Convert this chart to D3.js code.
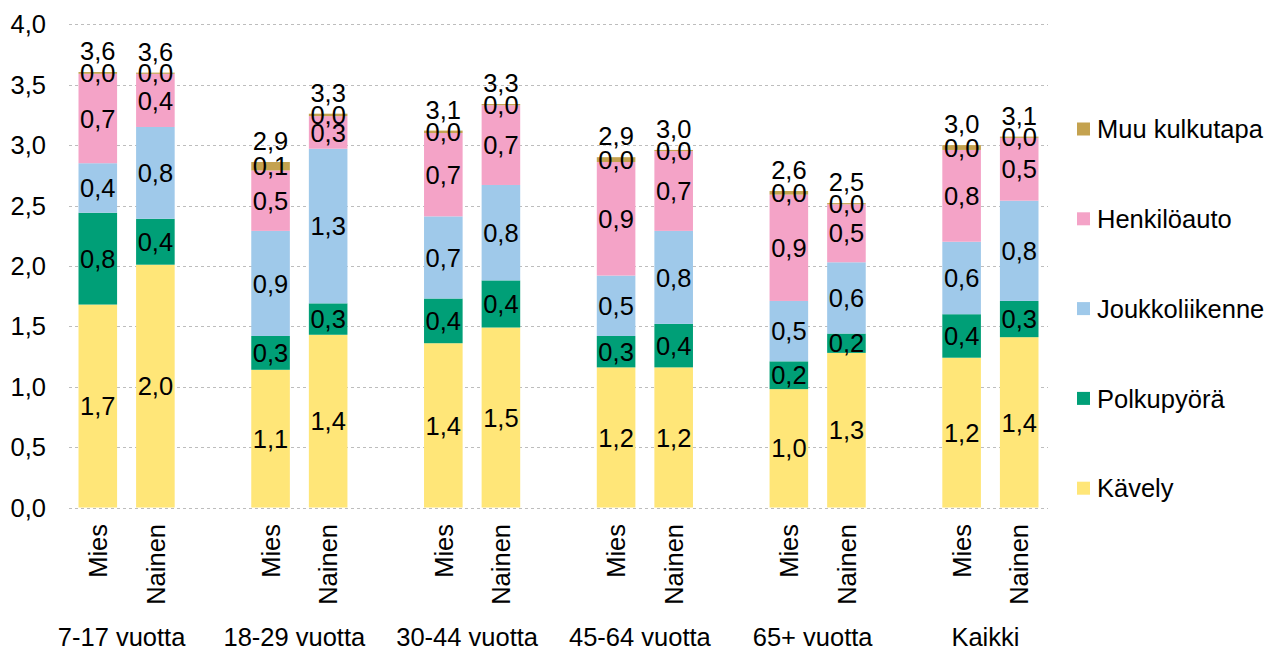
<!DOCTYPE html>
<html>
<head>
<meta charset="utf-8">
<script src="https://cdn.jsdelivr.net/npm/d3@7"></script>
<style>
  body { margin: 0; background: #fff; }
  text { font-family: "Liberation Sans", Arial, sans-serif; fill: #000; }
</style>
</head>
<body>
<div id="main"></div>
<script>
var groups = ["7-17 vuotta", "18-29 vuotta", "30-44 vuotta", "45-64 vuotta", "65+ vuotta", "Kaikki"];
var sexes = ["Mies", "Nainen"];
var modes = ["Kävely", "Polkupyörä", "Joukkoliikenne", "Henkilöauto", "Muu kulkutapa"];

// one value per bar: group by group, Mies then Nainen
var kavely     = [1.68, 2.01, 1.14, 1.43, 1.36, 1.49, 1.16, 1.16, 0.98, 1.28, 1.24, 1.41];
var polkupyora = [0.76, 0.38, 0.28, 0.26, 0.37, 0.39, 0.26, 0.36, 0.23, 0.16, 0.36, 0.30];
var joukko     = [0.41, 0.76, 0.87, 1.28, 0.68, 0.79, 0.50, 0.77, 0.50, 0.59, 0.60, 0.83];
var henkilo    = [0.74, 0.44, 0.50, 0.27, 0.69, 0.66, 0.94, 0.66, 0.88, 0.48, 0.76, 0.52];
var muu        = [0.015, 0.01, 0.07, 0.02, 0.02, 0.01, 0.04, 0.01, 0.03, 0.01, 0.04, 0.01];

var yTicks = [0, 0.5, 1, 1.5, 2, 2.5, 3, 3.5, 4];

var ctx = {
    w: 1271,
    h: 651,
    left: 69,
    right: 1048,
    top: 24.3,
    bottom: 507.5,
    font: 25.5,
};

var colors = {
    "Kävely": "#ffe678",
    "Polkupyörä": "#009f77",
    "Joukkoliikenne": "#9fc9ea",
    "Henkilöauto": "#f4a3c7",
    "Muu kulkutapa": "#c4a24f"
};

var fi = d3.formatLocale({decimal: ",", thousands: " ", grouping: [3], currency: ["", " €"]});
var fmt = fi.format(".1f");

var series = [kavely, polkupyora, joukko, henkilo, muu];
var table = [];
groups.forEach(function(g, i) {
    sexes.forEach(function(s, j) {
        var row = {group: g, sex: s, slot: i * 3 + j};
        modes.forEach(function(m, k) { row[m] = series[k][i * 2 + j]; });
        table.push(row);
    });
});

var svg = d3.select("#main").append("svg")
    .attr("width", ctx.w)
    .attr("height", ctx.h);

var x = d3.scaleBand()
    .domain(d3.range(groups.length * 3 - 1))
    .range([ctx.left, ctx.right])
    .paddingInner(0.33)
    .paddingOuter(0.165);

var y = d3.scaleLinear()
    .domain([0, 4])
    .range([ctx.bottom, ctx.top]);

// grid lines
svg.append("g").selectAll("line")
    .data(yTicks)
    .enter().append("line")
    .attr("x1", ctx.left)
    .attr("x2", ctx.right)
    .attr("y1", function(d) { return Math.round(y(d)) + 0.5; })
    .attr("y2", function(d) { return Math.round(y(d)) + 0.5; })
    .style("stroke", "#bdbdbd")
    .style("stroke-dasharray", "3,3");

// y tick labels
svg.append("g").selectAll("text")
    .data(yTicks)
    .enter().append("text")
    .attr("x", 46)
    .attr("y", function(d) { return y(d); })
    .attr("dy", "0.36em")
    .attr("text-anchor", "end")
    .style("font-size", ctx.font + "px")
    .text(function(d) { return fmt(d); });

var stack = d3.stack().keys(modes);
var layers = stack(table);

var layerG = svg.append("g").selectAll("g")
    .data(layers)
    .enter().append("g")
    .style("fill", function(d) { return colors[d.key]; });

layerG.selectAll("rect")
    .data(function(d) { return d; })
    .enter().append("rect")
    .attr("x", function(d) { return x(d.data.slot); })
    .attr("width", x.bandwidth())
    .attr("y", function(d) { return y(d[1]); })
    .attr("height", function(d) { return y(d[0]) - y(d[1]); });

// segment labels
layers.forEach(function(layer) {
    svg.append("g").selectAll("text")
        .data(layer)
        .enter().append("text")
        .attr("x", function(d) { return x(d.data.slot) + x.bandwidth() / 2; })
        .attr("y", function(d) { return (y(d[0]) + y(d[1])) / 2; })
        .attr("dy", "0.36em")
        .attr("text-anchor", "middle")
        .style("font-size", ctx.font + "px")
        .text(function(d) { return fmt(d[1] - d[0]); });
});

// totals above each bar
var topLayer = layers[layers.length - 1];
svg.append("g").selectAll("text")
    .data(topLayer)
    .enter().append("text")
    .attr("x", function(d) { return x(d.data.slot) + x.bandwidth() / 2; })
    .attr("y", function(d) { return y(d[1]) - 21; })
    .attr("dy", "0.36em")
    .attr("text-anchor", "middle")
    .style("font-size", ctx.font + "px")
    .text(function(d) { return fmt(d[1]); });

// sex labels, rotated
svg.append("g").selectAll("text")
    .data(table)
    .enter().append("text")
    .attr("transform", function(d) {
        return "translate(" + (x(d.slot) + x.bandwidth() / 2) + ",524) rotate(-90)";
    })
    .attr("dy", "0.36em")
    .attr("text-anchor", "end")
    .style("font-size", ctx.font + "px")
    .text(function(d) { return d.sex; });

// group labels
svg.append("g").selectAll("text")
    .data(groups)
    .enter().append("text")
    .attr("x", function(d, i) { return (x(i * 3) + x(i * 3 + 1) + x.bandwidth()) / 2 - 5; })
    .attr("y", 646)
    .attr("text-anchor", "middle")
    .style("font-size", ctx.font + "px")
    .text(function(d) { return d; });

// legend, top to bottom reversed
var legend = svg.append("g").selectAll("g")
    .data(modes.slice().reverse())
    .enter().append("g")
    .attr("transform", function(d, i) { return "translate(1077," + (129 + i * 89.8) + ")"; });
legend.append("rect")
    .attr("x", 0)
    .attr("y", -6.5)
    .attr("width", 13)
    .attr("height", 13)
    .style("fill", function(d) { return colors[d]; });
legend.append("text")
    .attr("x", 20)
    .attr("dy", "0.36em")
    .style("font-size", ctx.font + "px")
    .text(function(d) { return d; });
</script>
</body>
</html>
